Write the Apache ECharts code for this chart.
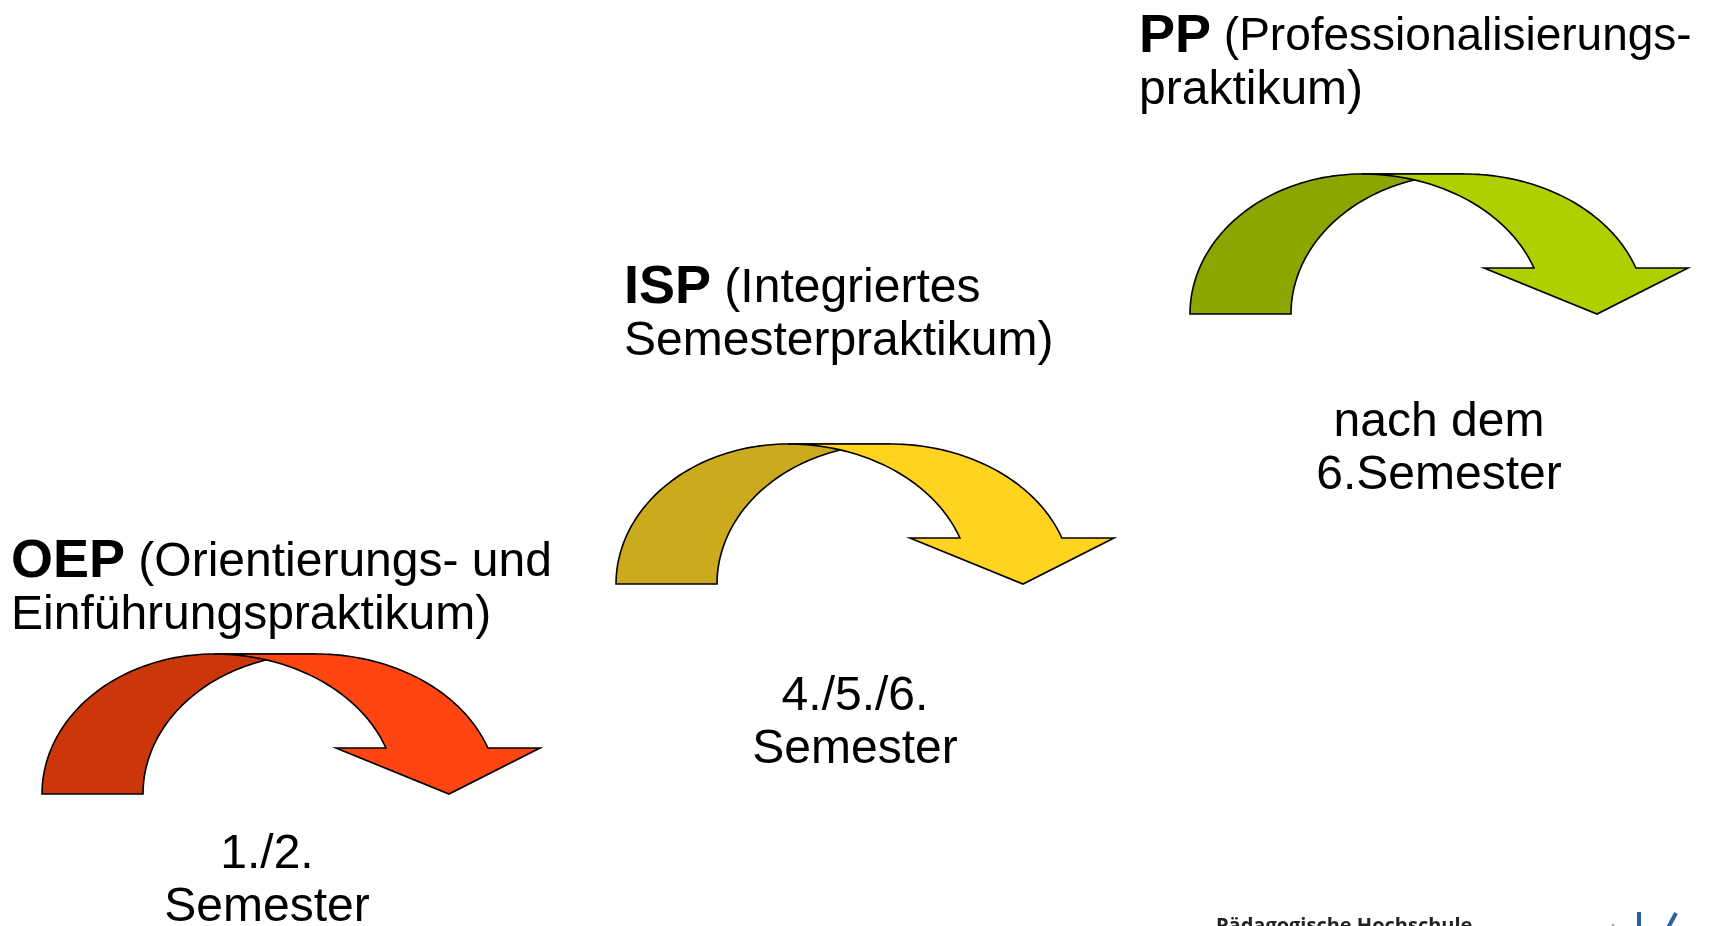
<!DOCTYPE html>
<html>
<head>
<meta charset="utf-8">
<title>Praktika</title>
<script src="https://cdn.jsdelivr.net/npm/echarts@6/dist/echarts.min.js"></script>
<style>
  html, body { margin: 0; padding: 0; background: #fff; }
  #main { width: 1729px; height: 926px; }
</style>
</head>
<body>
<div id="main"></div>
<script>
// Daten
var stages = ['OEP', 'ISP', 'PP'];
var langNamen = [
  '(Orientierungs- und\nEinführungspraktikum)',
  '(Integriertes\nSemesterpraktikum)',
  '(Professionalisierungs-\npraktikum)'
];
var semester = ['1./2.\nSemester', '4./5./6.\nSemester', 'nach dem\n6.Semester'];

// Farben (dunkel = hinterer Bogen, hell = Pfeil)
var farbeDunkel = ['#cb370b', '#cbaa1e', '#8aa600'];
var farbeHell = ['#ff4612', '#ffd320', '#add100'];

// Layout (Pixel auf der y-Achse, Offsets zum Pfeil)
var basisY = [794, 584, 314];
var titelPos = [[11, 536], [624, 262], [1139, 11]];
var zeile1Groesse = [48, 48, 46];
var semPos = [[267, 828], [855, 670], [1439, 396]];

var FONT = 'Liberation Sans, Arial, sans-serif';

// Bogen-Punkte, relativ zur linken unteren Ecke (y nach oben)
function bogen(cx, rx, ry, a0, a1, n) {
  var pts = [];
  for (var k = 0; k <= n; k++) {
    var t = (a0 + (a1 - a0) * k / n) * Math.PI / 180;
    pts.push([cx + rx * Math.cos(t), ry * Math.sin(t)]);
  }
  return pts;
}
var H = 140, FL = 46;
var tEnde = Math.asin(FL / H) * 180 / Math.PI;
var formDunkel = bogen(172, 172, H, 180, 90, 48).concat(bogen(274, 173, H, 90, 180, 48));
var formHell = [[172, H]]
  .concat(bogen(274, 182, H, 90, tEnde, 48))
  .concat([[498, FL], [407, 0], [294, FL]])
  .concat(bogen(172, 182, H, tEnde, 90, 48));

var myChart = echarts.init(document.getElementById('main'));

function renderItem(params, api) {
  var i = params.dataIndex;
  var c = api.coord([api.value(0), api.value(1)]);
  var x0 = c[0] - 249, y0 = c[1];
  var map = function (p) { return [x0 + p[0], y0 - p[1]]; };
  var topY = api.coord([0, 0])[1];
  var zeilen = langNamen[i].split('\n');
  return {
    type: 'group',
    children: [
      {
        type: 'polygon',
        shape: { points: formDunkel.map(map) },
        style: { fill: farbeDunkel[i], stroke: '#000', lineWidth: 1.6 }
      },
      {
        type: 'polygon',
        shape: { points: formHell.map(map) },
        style: { fill: farbeHell[i], stroke: '#000', lineWidth: 1.6, lineJoin: 'miter' }
      },
      {
        type: 'text',
        style: {
          x: titelPos[i][0],
          y: topY + titelPos[i][1],
          text: '{b|' + stages[i] + '}{z| ' + zeilen[0] + '}\n{n|' + zeilen[1] + '}',
          fill: '#000',
          fontSize: 48,
          fontFamily: FONT,
          lineHeight: 53,
          align: 'left',
          verticalAlign: 'top',
          rich: {
            b: { fontSize: 54, fontWeight: 'bold', fontFamily: FONT, lineHeight: 53, fill: '#000' },
            z: { fontSize: zeile1Groesse[i], fontFamily: FONT, lineHeight: 53, fill: '#000' },
            n: { fontSize: 48, fontFamily: FONT, lineHeight: 53, fill: '#000' }
          }
        }
      },
      {
        type: 'text',
        style: {
          x: semPos[i][0],
          y: topY + semPos[i][1],
          text: semester[i],
          fill: '#000',
          fontSize: 48,
          fontFamily: FONT,
          lineHeight: 53,
          align: 'center',
          verticalAlign: 'top'
        }
      }
    ]
  };
}

var option = {
  animation: false,
  backgroundColor: '#fff',
  grid: { left: 4, right: 3, top: 0, bottom: 0 },
  xAxis: { type: 'category', data: stages, show: false },
  yAxis: { type: 'value', min: 0, max: 926, inverse: true, show: false },
  graphic: [
    {
      type: 'text', left: 1216, top: 916, z: 10,
      style: { text: 'Pädagogische Hochschule', fill: '#222', fontSize: 20, fontWeight: 'bold', fontFamily: 'Open Sans, sans-serif' }
    },
    { type: 'rect', shape: { x: 1637, y: 912, width: 4, height: 20 }, style: { fill: '#2b5fa8' } },
    { type: 'line', shape: { x1: 1676, y1: 913, x2: 1668, y2: 928 }, style: { stroke: '#2b5fa8', lineWidth: 4 } },
    { type: 'circle', shape: { cx: 1613, cy: 925, r: 1.5 }, style: { fill: '#aab' } }
  ],
  series: [{
    type: 'custom',
    renderItem: renderItem,
    data: stages.map(function (s, i) { return [i, basisY[i]]; })
  }]
};

myChart.setOption(option);
</script>
</body>
</html>
